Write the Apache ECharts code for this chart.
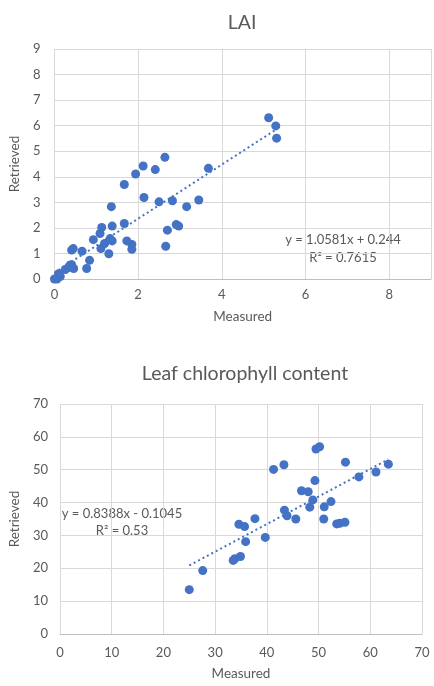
<!DOCTYPE html>
<html>
<head>
<meta charset="utf-8">
<script src="https://cdn.jsdelivr.net/npm/echarts@6/dist/echarts.min.js"></script>
<style>
html,body{margin:0;padding:0;background:#fff;}
#c{width:434px;height:686px;}
</style>
</head>
<body>
<div id="c"></div>
<script>
// LAI: measured vs retrieved
const laiMeasured  = [0.00,0.06,0.14,0.10,0.26,0.34,0.41,0.37,0.46,0.41,0.45,0.66,0.77,0.84,0.93,1.11,1.09,1.13,1.20,1.30,1.33,1.38,1.36,1.38,1.67,1.67,1.73,1.85,1.85,1.94,2.12,2.14,2.41,2.64,2.50,2.66,2.70,2.82,2.91,2.97,3.16,3.45,3.68,5.12,5.29,5.31];
const laiRetrieved = [0.00,0.00,0.10,0.21,0.37,0.45,0.56,0.54,0.41,1.13,1.19,1.09,0.41,0.73,1.54,1.19,1.78,2.02,1.39,0.99,1.58,1.49,2.83,2.07,2.17,3.70,1.49,1.35,1.16,4.11,4.42,3.19,4.28,4.76,3.02,1.28,1.91,3.06,2.13,2.07,2.83,3.09,4.33,6.31,5.99,5.51];
const laiSlope = 1.0581, laiIntercept = 0.244;
const laiEqText = ['y = 1.0581x + 0.244', 'R² = 0.7615'];

// Leaf chlorophyll content
const chlMeasured  = [25.0,27.6,33.5,33.8,34.9,34.6,35.7,35.9,37.7,39.7,41.3,43.3,43.4,43.9,45.6,46.7,48.0,48.3,48.9,49.3,49.5,50.2,51.1,51.0,52.4,53.5,54.1,55.1,55.2,57.8,61.1,63.5];
const chlRetrieved = [13.5,19.3,22.4,22.9,23.6,33.4,32.7,28.1,35.1,29.4,50.1,51.5,37.7,36.0,35.0,43.6,43.3,38.6,40.8,46.7,56.3,57.0,38.7,35.0,40.3,33.5,33.7,34.0,52.3,47.8,49.3,51.7];
const chlSlope = 0.8388, chlIntercept = -0.1045;
const chlEqText = ['y = 0.8388x - 0.1045', 'R² = 0.53'];

const FONT = 'Lato';
const TXT = '#595959';
const BLUE = '#4472C4';

function pairs(xs, ys){ return xs.map((x,i)=>[x, ys[i]]); }
function trend(xs, m, b){
  const lo = Math.min(...xs), hi = Math.max(...xs);
  return [[lo, m*lo+b],[hi, m*hi+b]];
}

function xAxisCfg(idx, min, max, interval, gap, margin){
  return {
    gridIndex: idx, type:'value', min, max, interval,
    name:'Measured', nameLocation:'middle', nameGap:gap,
    nameTextStyle:{color:TXT, fontSize:13.5, fontFamily:FONT},
    axisLine:{show:true, lineStyle:{color:'#BFBFBF', width:1}},
    axisTick:{show:false},
    axisLabel:{color:TXT, fontSize:13, fontFamily:FONT, margin,
      formatter:v=> (v % interval !== 0) ? '' : String(v)},
    splitLine:{show:true, lineStyle:{color:'#D9D9D9', width:1}}
  };
}
function yAxisCfg(idx, min, max, interval, gap, margin){
  return {
    gridIndex: idx, type:'value', min, max, interval,
    name:'Retrieved', nameLocation:'middle', nameGap:gap,
    nameTextStyle:{color:TXT, fontSize:13.5, fontFamily:FONT},
    axisLine:{show:false}, axisTick:{show:false},
    axisLabel:{color:TXT, fontSize:13, fontFamily:FONT, margin},
    splitLine:{show:true, lineStyle:{color:'#D9D9D9', width:1}}
  };
}

const chart = echarts.init(document.getElementById('c'), null, {renderer:'canvas'});
chart.setOption({
  animation:false,
  backgroundColor:'#fff',
  title:[
    {text:'LAI', left:237, top:8, textAlign:'center',
     textStyle:{color:TXT, fontSize:19.5, fontWeight:'normal', fontFamily:FONT}},
    {text:'Leaf chlorophyll content', left:240, top:359, textAlign:'center',
     textStyle:{color:TXT, fontSize:19.5, fontWeight:'normal', fontFamily:FONT}}
  ],
  grid:[
    {left:51, top:49, width:387, height:230},
    {left:57, top:404, width:365, height:230}
  ],
  xAxis:[ xAxisCfg(0, 0, 9, 2, 31, 9), xAxisCfg(1, 0, 70, 10, 33, 12) ],
  yAxis:[ yAxisCfg(0, 0, 9, 1, 26, 14), yAxisCfg(1, 0, 70, 10, 32, 12) ],
  series:[
    {type:'scatter', xAxisIndex:0, yAxisIndex:0, data:pairs(laiMeasured, laiRetrieved),
     symbolSize:9, itemStyle:{color:BLUE, opacity:1}, z:3},
    {type:'line', xAxisIndex:0, yAxisIndex:0, data:trend(laiMeasured, laiSlope, laiIntercept),
     symbol:'none', lineStyle:{color:BLUE, width:2, type:[2,3]}, z:2},
    {type:'scatter', xAxisIndex:1, yAxisIndex:1, data:pairs(chlMeasured, chlRetrieved),
     symbolSize:9, itemStyle:{color:BLUE, opacity:1}, z:3},
    {type:'line', xAxisIndex:1, yAxisIndex:1, data:trend(chlMeasured, chlSlope, chlIntercept),
     symbol:'none', lineStyle:{color:BLUE, width:2, type:[2,3]}, z:2}
  ],
  graphic:[
    {type:'text', x:343, y:240, style:{text:laiEqText[0], align:'center', verticalAlign:'middle', fill:TXT, font:'13px '+FONT}},
    {type:'text', x:343, y:257.5, style:{text:laiEqText[1], align:'center', verticalAlign:'middle', fill:TXT, font:'13px '+FONT}},
    {type:'text', x:122, y:514, style:{text:chlEqText[0], align:'center', verticalAlign:'middle', fill:TXT, font:'13px '+FONT}},
    {type:'text', x:122, y:531, style:{text:chlEqText[1], align:'center', verticalAlign:'middle', fill:TXT, font:'13px '+FONT}}
  ]
});
</script>
</body>
</html>
